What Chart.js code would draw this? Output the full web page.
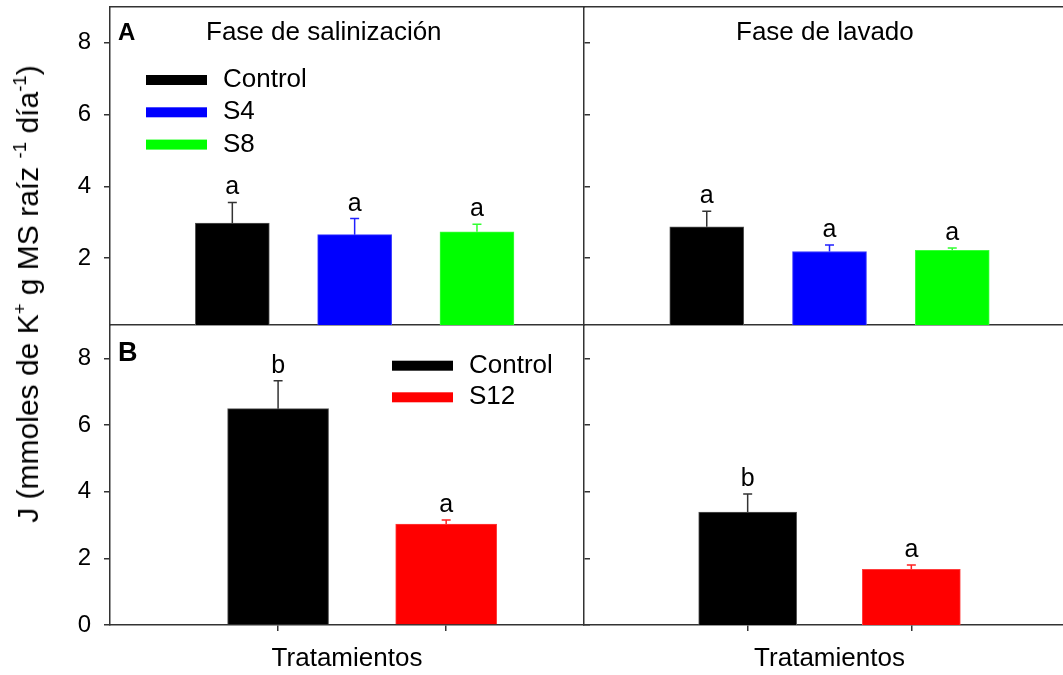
<!DOCTYPE html>
<html>
<head>
<meta charset="utf-8">
<script src="https://cdn.jsdelivr.net/npm/chart.js@4.4.1/dist/chart.umd.min.js"></script>
<style>
body { margin: 0; background: #fff; width: 1063px; height: 675px; overflow: hidden; position: relative; }
canvas { position: absolute; left: 0; top: 0; }
.txt { position: absolute; line-height: 1; white-space: nowrap; color: #000; font-family: 'Liberation Sans', Arial, sans-serif; }
#ytitle { left: 28px; top: 293.5px; font-size: 30px; transform: translate(-50%, -50%) rotate(-90deg); }
#ytitle sup { font-size: 0.62em; vertical-align: 0; position: relative; top: -0.62em; }
</style>
</head>
<body>
<canvas id="tl" width="1075" height="675"></canvas>
<canvas id="tr" width="1075" height="675"></canvas>
<canvas id="bl" width="1075" height="675"></canvas>
<canvas id="br" width="1075" height="675"></canvas>

<div class="txt" style="left:118px; top:19.7px; font-size:24px; font-weight:bold;">A</div>
<div class="txt" style="left:118px; top:338.8px; font-size:27px; font-weight:bold;">B</div>
<div class="txt" style="left:206px; top:18px; font-size:26px;">Fase de salinización</div>
<div class="txt" style="left:736px; top:18px; font-size:26px;">Fase de lavado</div>
<div class="txt" id="ytitle">J (mmoles de K<sup>+</sup> g MS raíz <sup>-1</sup> día<sup>-1</sup>)</div>

<script>
var FONT = "'Liberation Sans', Arial, sans-serif";
Chart.defaults.font.family = FONT;
Chart.defaults.color = '#000';

// valores
var tratamientos3 = ['Control', 'S4', 'S8'];
var tratamientos2 = ['Control', 'S12'];

var salinizacion3 = [2.97, 2.65, 2.73];
var salinizacion3Err = [0.58, 0.45, 0.21];
var salinizacion3Letras = ['a', 'a', 'a'];

var lavado3 = [2.87, 2.18, 2.21];
var lavado3Err = [0.43, 0.18, 0.07];
var lavado3Letras = ['a', 'a', 'a'];

var salinizacion2 = [6.49, 3.03];
var salinizacion2Err = [0.84, 0.12];
var salinizacion2Letras = ['b', 'a'];

var lavado2 = [3.39, 1.67];
var lavado2Err = [0.54, 0.13];
var lavado2Letras = ['b', 'a'];

var ticksArriba = [2, 4, 6, 8];
var ticksAbajo = [0, 2, 4, 6, 8];
var ticksTratamientos = [1, 2];
var tituloX = 'Tratamientos';

// colores
var colores3 = ['#000000', '#0000ff', '#00ff00'];
var bordes3 = ['#555555', '#3c3cff', '#3cff3c'];
var errores3 = ['#333333', '#2020ff', '#30ff30'];
var colores2 = ['#000000', '#ff0000'];
var bordes2 = ['#555555', '#ff3c3c'];
var errores2 = ['#333333', '#ff2020'];

var LINEA = '#333';

var errorBars = {
	id: 'errorBars',
	afterDatasetsDraw: function(chart, args, opts) {
		var ctx = chart.ctx;
		var yScale = chart.scales.y;
		var meta = chart.getDatasetMeta(0);
		var ds = chart.data.datasets[0];
		ctx.save();
		meta.data.forEach(function(bar, i) {
			var v = ds.data[i].y;
			var top = yScale.getPixelForValue(v + opts.errors[i]);
			var base = yScale.getPixelForValue(v);
			ctx.strokeStyle = opts.colors[i];
			ctx.lineWidth = 1.5;
			ctx.beginPath();
			ctx.moveTo(bar.x, base);
			ctx.lineTo(bar.x, top);
			ctx.moveTo(bar.x - 4.5, top);
			ctx.lineTo(bar.x + 4.5, top);
			ctx.stroke();
			ctx.fillStyle = '#000';
			ctx.font = '25px ' + FONT;
			ctx.textAlign = 'center';
			ctx.textBaseline = 'alphabetic';
			ctx.fillText(opts.letters[i], bar.x, top - 8);
		});
		ctx.restore();
	}
};

var leyenda = {
	id: 'leyenda',
	afterDraw: function(chart, args, opts) {
		if (!opts.show) return;
		var ctx = chart.ctx;
		ctx.save();
		ctx.font = '26px ' + FONT;
		ctx.textAlign = 'left';
		ctx.textBaseline = 'middle';
		opts.labels.forEach(function(label, i) {
			var cy = opts.y + i * opts.gap;
			ctx.fillStyle = opts.colors[i];
			ctx.fillRect(opts.x, cy - 5, 61, 10);
			ctx.fillStyle = '#000';
			ctx.fillText(label, opts.x + 77, cy);
		});
		ctx.restore();
	}
};

var setTicks = function(values) {
	return function(scale) {
		scale.ticks = values.map(function(v) { return {value: v}; });
	};
};

// ancho fijo del eje y, sin margen extra por las etiquetas
var fixWidth = function(w) {
	return function(s) {
		s.width = w;
		s.paddingTop = 0;
		s.paddingBottom = 0;
	};
};

var crearPanel = function(elementId, p) {
	var scales = {
		x: {
			type: 'linear', position: 'bottom', min: 0, max: p.xMax, offset: false,
			ticks: {display: false},
			grid: {display: !!p.xTicks, offset: false, drawOnChartArea: false, tickLength: 6, color: LINEA, lineWidth: 1.5},
			border: {color: LINEA, width: 1.5},
			title: {display: !!p.xTitle, text: p.xTitle || '', font: {size: 26, lineHeight: 1}, padding: 0, color: '#000'},
			afterFit: function(s) { s.height = p.xHeight; s.paddingLeft = 0; s.paddingRight = 0; }
		},
		y: {
			type: 'linear', position: 'left', display: p.yAxis, min: p.yMin, max: 9,
			afterBuildTicks: setTicks(p.yTicks),
			ticks: {font: {size: 24}, padding: 13, color: '#000'},
			grid: {drawOnChartArea: false, tickLength: 6, color: LINEA, lineWidth: 1.5},
			border: {color: LINEA, width: 1.5}
		}
	};
	if (p.xTicks) {
		scales.x.afterBuildTicks = setTicks(p.xTicks);
	}
	if (p.yAxis) {
		scales.y.afterFit = fixWidth(100);
		// borde divisor con marcas hacia el panel derecho
		scales.y2 = {
			type: 'linear', position: 'right', min: p.yMin, max: 9,
			afterBuildTicks: setTicks(p.yTicks),
			ticks: {display: false},
			grid: {drawOnChartArea: false, tickLength: 6, color: LINEA, lineWidth: 1.5},
			border: {color: LINEA, width: 1.5},
			afterFit: fixWidth(10)
		};
	}
	if (p.topBorder) {
		scales.xTop = {
			type: 'linear', position: 'top', min: 0, max: p.xMax,
			ticks: {display: false},
			grid: {display: false},
			border: {color: LINEA, width: 1.5},
			afterFit: function(s) { s.height = 5; s.paddingLeft = 0; s.paddingRight = 0; }
		};
	}

	var ctx = document.getElementById(elementId).getContext('2d');
	return new Chart(ctx, {
		type: 'bar',
		data: {
			labels: p.labels,
			datasets: [{
				data: p.values.map(function(v, i) { return {x: i + 1, y: v}; }),
				backgroundColor: p.colors,
				borderColor: p.borders,
				borderWidth: 1,
				barThickness: p.barWidth,
				xAxisID: 'x',
				yAxisID: 'y'
			}]
		},
		options: {
			responsive: false,
			animation: false,
			layout: {padding: p.padding},
			scales: scales,
			plugins: {
				legend: {display: false},
				tooltip: {enabled: false},
				errorBars: {errors: p.errors, colors: p.errColors, letters: p.letters},
				leyenda: p.legend || {show: false}
			}
		},
		plugins: [errorBars, leyenda]
	});
};

crearPanel('tl', {
	labels: tratamientos3, values: salinizacion3, errors: salinizacion3Err, letters: salinizacion3Letras,
	colors: colores3, borders: bordes3, errColors: errores3, barWidth: 74,
	xMax: 3.875, xHeight: 10, yAxis: true, yMin: 0.13, yTicks: ticksArriba, topBorder: true,
	padding: {left: 10, right: 481, top: 2, bottom: 340},
	legend: {show: true, labels: tratamientos3, colors: colores3, x: 146, y: 80, gap: 32.3}
});

crearPanel('tr', {
	labels: tratamientos3, values: lavado3, errors: lavado3Err, letters: lavado3Letras,
	colors: colores3, borders: bordes3, errColors: errores3, barWidth: 74,
	xMax: 4, xHeight: 10, yAxis: false, yMin: 0.13, yTicks: ticksArriba, topBorder: true,
	padding: {left: 584, right: 0, top: 2, bottom: 340}
});

crearPanel('bl', {
	labels: tratamientos2, values: salinizacion2, errors: salinizacion2Err, letters: salinizacion2Letras,
	colors: colores2, borders: bordes2, errColors: errores2, barWidth: 101,
	xMax: 2.82, xHeight: 46.5, xTicks: ticksTratamientos, xTitle: tituloX,
	yAxis: true, yMin: 0, yTicks: ticksAbajo, topBorder: false,
	padding: {left: 10, right: 481, top: 325, bottom: 3.5},
	legend: {show: true, labels: tratamientos2, colors: colores2, x: 392, y: 365.7, gap: 31.6}
});

crearPanel('br', {
	labels: tratamientos2, values: lavado2, errors: lavado2Err, letters: lavado2Letras,
	colors: colores2, borders: bordes2, errColors: errores2, barWidth: 98,
	xMax: 3, xHeight: 46.5, xTicks: ticksTratamientos, xTitle: tituloX,
	yAxis: false, yMin: 0, yTicks: ticksAbajo, topBorder: false,
	padding: {left: 584, right: 0, top: 325, bottom: 3.5}
});
</script>
</body>
</html>
